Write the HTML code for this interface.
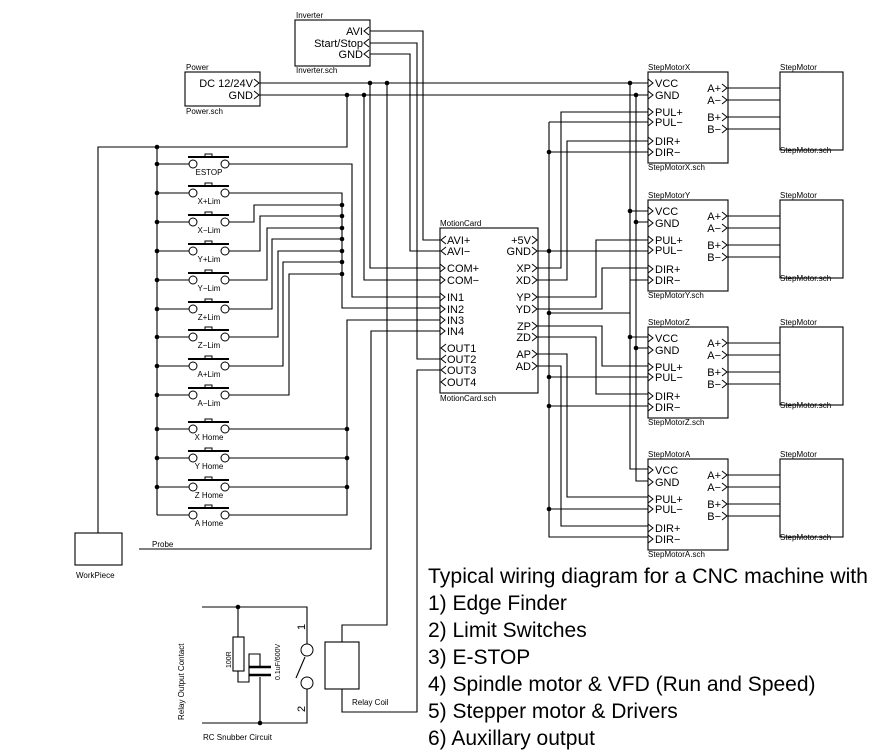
<!DOCTYPE html>
<html><head><meta charset="utf-8"><style>
html,body{margin:0;padding:0;background:#fff;}
svg{display:block;}
text{font-family:"Liberation Sans",sans-serif;fill:#000;}
.s{font-size:8px;}
.p{font-size:11px;}
</style></head><body>
<svg width="890" height="754" viewBox="0 0 890 754" xmlns="http://www.w3.org/2000/svg">
<defs>
<g id="sw">
<line x1="188" y1="-7" x2="229" y2="-7" stroke="#000" stroke-width="2"/>
<path d="M205 -7 V-10 H212 V-7" fill="none" stroke="#000"/>
<circle cx="193" cy="0" r="4" fill="#fff" stroke="#000"/>
<circle cx="225" cy="0" r="4" fill="#fff" stroke="#000"/>
<line x1="157" y1="0" x2="189" y2="0" stroke="#000"/>
</g>
<path id="pin" d="M0 -4 L5 0 L0 4" fill="none" stroke="#000"/>
<path id="pinL" d="M5 -4 L0 0 L5 4" fill="none" stroke="#000"/>
<circle id="d" r="2.3" fill="#000"/>
</defs>
<g fill="none" stroke="#000" stroke-width="1.1">
<rect x="295" y="20" width="75" height="46"/>
<rect x="185" y="72" width="75" height="34"/>
<rect x="440" y="228" width="98" height="165"/>
<rect x="75" y="533" width="47" height="32"/>
<path d="M260 83 H648 M260 95 H648"/>
<path d="M630 83 V469 H648 M636 95 V481 H648"/>
<path d="M630 211 H648 M636 222 H648 M630 337 H648 M636 348 H648 M630 280 H648"/>
<path d="M370 31 H423 V240 H440 M370 43 H417 V359 H440 M370 54 H410 V251 H440"/>
<path d="M440 370 H417 V712 H342 V689"/>
<path d="M387 83 V625 H342 V642"/>
<path d="M370 83 V268 H440 M364 95 V280 H440"/>
<path d="M347 95 V147 H98 V533"/>
<path d="M139 549 H371 V331 H440"/>
<path d="M157 147 V515"/>
<path d="M229 164 H352 V297 H440"/>
<path d="M229 193 H342 V308 H440"/>
<path d="M229 222 H254 V205 H342 M229 251 H260 V216 H342 M229 280 H267 V228 H342 M229 309 H272 V239 H342 M229 337 H278 V251 H342 M229 366 H283 V262 H342 M229 395 H289 V274 H342"/>
<path d="M229 429 H347 M229 458 H347 M229 487 H347 M229 515 H347 V320 H440"/>
<path d="M538 268 H561 V112 H648 M538 280 H567 V141 H648"/>
<path d="M549 122 H648 M549 122 V537 H648 M549 152 H648 M538 251 H648 M549 313 H630 M549 377 H648 M549 406 H648 M549 509 H648"/>
<path d="M538 297 H596 V240 H648 M538 309 H602 V268 H648 M538 326 H602 V366 H648 M538 337 H596 V394 H648 M538 354 H567 V497 H648 M538 366 H561 V526 H648"/>
<path d="M202 607 H307 V644 M202 723 H307 V689"/>
<path d="M238 607 V637 M238 671 V682 H249 V654 H260 V668 M260 677 V723"/>
<rect x="233" y="637" width="11" height="34"/>
<line x1="296" y1="678" x2="305" y2="657"/>
<rect x="325" y="642" width="34" height="47"/>
</g>
<g stroke="#000" stroke-width="2.5">
<line x1="249" y1="667" x2="271" y2="667"/><line x1="249" y1="675" x2="271" y2="675"/>
</g>
<circle cx="307" cy="650" r="6" fill="#fff" stroke="#000"/>
<circle cx="307" cy="683" r="6" fill="#fff" stroke="#000"/>
<g id="mb">
<g fill="none" stroke="#000" stroke-width="1.1">
<rect x="648" y="72" width="80" height="91"/>
<rect x="780" y="72" width="63" height="78"/>
<path d="M728 88 H780 M728 100 H780 M728 117 H780 M728 129 H780"/>
</g>
<use href="#pin" x="648" y="83"/><use href="#pin" x="648" y="95"/><use href="#pin" x="648" y="112"/><use href="#pin" x="648" y="122"/><use href="#pin" x="648" y="141"/><use href="#pin" x="648" y="152"/>
<use href="#pin" x="722" y="88"/><use href="#pin" x="722" y="100"/><use href="#pin" x="722" y="117"/><use href="#pin" x="722" y="129"/>
<text class="p" x="655" y="87">VCC</text><text class="p" x="655" y="99">GND</text><text class="p" x="655" y="116">PUL+</text><text class="p" x="655" y="126">PUL−</text><text class="p" x="655" y="145">DIR+</text><text class="p" x="655" y="156">DIR−</text>
<text class="p" x="721" y="92" text-anchor="end">A+</text><text class="p" x="721" y="104" text-anchor="end">A−</text><text class="p" x="721" y="121" text-anchor="end">B+</text><text class="p" x="721" y="133" text-anchor="end">B−</text>
<text class="s" x="780" y="70">StepMotor</text><text class="s" x="780" y="153">StepMotor.sch</text>
</g>
<text class="s" x="648" y="70">StepMotorX</text><text class="s" x="648" y="170">StepMotorX.sch</text>
<g transform="translate(0,128)">
<use href="#mb"/>
<text class="s" x="648" y="70">StepMotorY</text><text class="s" x="648" y="170">StepMotorY.sch</text>
</g>
<g transform="translate(0,255)">
<use href="#mb"/>
<text class="s" x="648" y="70">StepMotorZ</text><text class="s" x="648" y="170">StepMotorZ.sch</text>
</g>
<g transform="translate(0,387)">
<use href="#mb"/>
<text class="s" x="648" y="70">StepMotorA</text><text class="s" x="648" y="170">StepMotorA.sch</text>
</g>
<use href="#sw" y="164"/><use href="#sw" y="193"/><use href="#sw" y="222"/><use href="#sw" y="251"/><use href="#sw" y="280"/><use href="#sw" y="309"/><use href="#sw" y="337"/><use href="#sw" y="366"/><use href="#sw" y="395"/><use href="#sw" y="429"/><use href="#sw" y="458"/><use href="#sw" y="487"/><use href="#sw" y="515"/>
<g class="s" text-anchor="middle">
<text x="209" y="175">ESTOP</text><text x="209" y="204">X+Lim</text><text x="209" y="233">X−Lim</text><text x="209" y="262">Y+Lim</text><text x="209" y="291">Y−Lim</text><text x="209" y="320">Z+Lim</text><text x="209" y="348">Z−Lim</text><text x="209" y="377">A+Lim</text><text x="209" y="406">A−Lim</text><text x="209" y="440">X Home</text><text x="209" y="469">Y Home</text><text x="209" y="498">Z Home</text><text x="209" y="526">A Home</text>
</g>
<use href="#pinL" x="364" y="31"/><use href="#pinL" x="364" y="43"/><use href="#pinL" x="364" y="54"/>
<use href="#pin" x="254" y="83"/><use href="#pin" x="254" y="95"/>
<g class="p" text-anchor="end">
<text x="363" y="35">AVI</text><text x="363" y="47">Start/Stop</text><text x="363" y="58">GND</text>
<text x="253" y="87">DC 12/24V</text><text x="253" y="99">GND</text>
</g>
<text class="s" x="296" y="18">Inverter</text><text class="s" x="296" y="73">Inverter.sch</text>
<text class="s" x="186" y="70">Power</text><text class="s" x="186" y="114">Power.sch</text>
<use href="#pinL" x="441" y="240"/><use href="#pinL" x="441" y="251"/>
<use href="#pin" x="440" y="268"/><use href="#pin" x="440" y="280"/><use href="#pin" x="440" y="297"/><use href="#pin" x="440" y="309"/><use href="#pin" x="440" y="320"/><use href="#pin" x="440" y="331"/>
<use href="#pinL" x="441" y="348"/><use href="#pinL" x="441" y="359"/><use href="#pinL" x="441" y="370"/><use href="#pinL" x="441" y="382"/>
<g class="p">
<text x="447" y="244">AVI+</text><text x="447" y="255">AVI−</text><text x="447" y="272">COM+</text><text x="447" y="284">COM−</text><text x="447" y="301">IN1</text><text x="447" y="313">IN2</text><text x="447" y="324">IN3</text><text x="447" y="335">IN4</text><text x="447" y="352">OUT1</text><text x="447" y="363">OUT2</text><text x="447" y="374">OUT3</text><text x="447" y="386">OUT4</text>
</g>
<use href="#pin" x="532" y="240"/><use href="#pin" x="532" y="251"/><use href="#pin" x="532" y="268"/><use href="#pin" x="532" y="280"/><use href="#pin" x="532" y="297"/><use href="#pin" x="532" y="309"/><use href="#pin" x="532" y="326"/><use href="#pin" x="532" y="337"/><use href="#pin" x="532" y="354"/><use href="#pin" x="532" y="366"/>
<g class="p" text-anchor="end">
<text x="531" y="244">+5V</text><text x="531" y="255">GND</text><text x="531" y="272">XP</text><text x="531" y="284">XD</text><text x="531" y="301">YP</text><text x="531" y="313">YD</text><text x="531" y="330">ZP</text><text x="531" y="341">ZD</text><text x="531" y="358">AP</text><text x="531" y="370">AD</text>
</g>
<text class="s" x="440" y="226">MotionCard</text><text class="s" x="440" y="401">MotionCard.sch</text>
<use href="#d" x="347" y="95"/><use href="#d" x="364" y="95"/><use href="#d" x="370" y="83"/><use href="#d" x="387" y="83"/><use href="#d" x="630" y="83"/><use href="#d" x="636" y="95"/>
<use href="#d" x="157" y="147"/><use href="#d" x="157" y="164"/><use href="#d" x="157" y="193"/><use href="#d" x="157" y="222"/><use href="#d" x="157" y="251"/><use href="#d" x="157" y="280"/><use href="#d" x="157" y="309"/><use href="#d" x="157" y="337"/><use href="#d" x="157" y="366"/><use href="#d" x="157" y="395"/><use href="#d" x="157" y="429"/><use href="#d" x="157" y="458"/><use href="#d" x="157" y="487"/>
<use href="#d" x="342" y="205"/><use href="#d" x="342" y="216"/><use href="#d" x="342" y="228"/><use href="#d" x="342" y="239"/><use href="#d" x="342" y="251"/><use href="#d" x="342" y="262"/><use href="#d" x="342" y="274"/>
<use href="#d" x="347" y="429"/><use href="#d" x="347" y="458"/><use href="#d" x="347" y="487"/>
<use href="#d" x="549" y="152"/><use href="#d" x="549" y="251"/><use href="#d" x="549" y="313"/><use href="#d" x="549" y="377"/><use href="#d" x="549" y="406"/><use href="#d" x="549" y="509"/>
<use href="#d" x="630" y="211"/><use href="#d" x="636" y="222"/><use href="#d" x="630" y="337"/><use href="#d" x="636" y="348"/>
<use href="#d" x="238" y="607"/><use href="#d" x="260" y="723"/>
<text class="s" x="76" y="578">WorkPiece</text>
<text class="s" x="152" y="547">Probe</text>
<text class="s" x="352" y="705">Relay Coil</text>
<text class="s" x="203" y="740">RC Snubber Circuit</text>
<text class="s" transform="translate(184,720) rotate(-90)">Relay Output Contact</text>
<text class="s" style="font-size:7px" transform="translate(231,668) rotate(-90)">100R</text>
<text class="s" style="font-size:7px" transform="translate(280,680) rotate(-90)">0.1uF/600V</text>
<text class="p" transform="translate(305,630) rotate(-90)">1</text>
<text class="p" transform="translate(305,712) rotate(-90)">2</text>
<g style="font-size:21px">
<text x="428" y="583" textLength="440" lengthAdjust="spacingAndGlyphs">Typical wiring diagram for a CNC machine with</text>
<text x="428" y="610">1) Edge Finder</text>
<text x="428" y="637">2) Limit Switches</text>
<text x="428" y="664">3) E-STOP</text>
<text x="428" y="691">4) Spindle motor &amp; VFD (Run and Speed)</text>
<text x="428" y="718">5) Stepper motor &amp; Drivers</text>
<text x="428" y="745">6) Auxillary output</text>
</g>
</svg>
</body></html>
